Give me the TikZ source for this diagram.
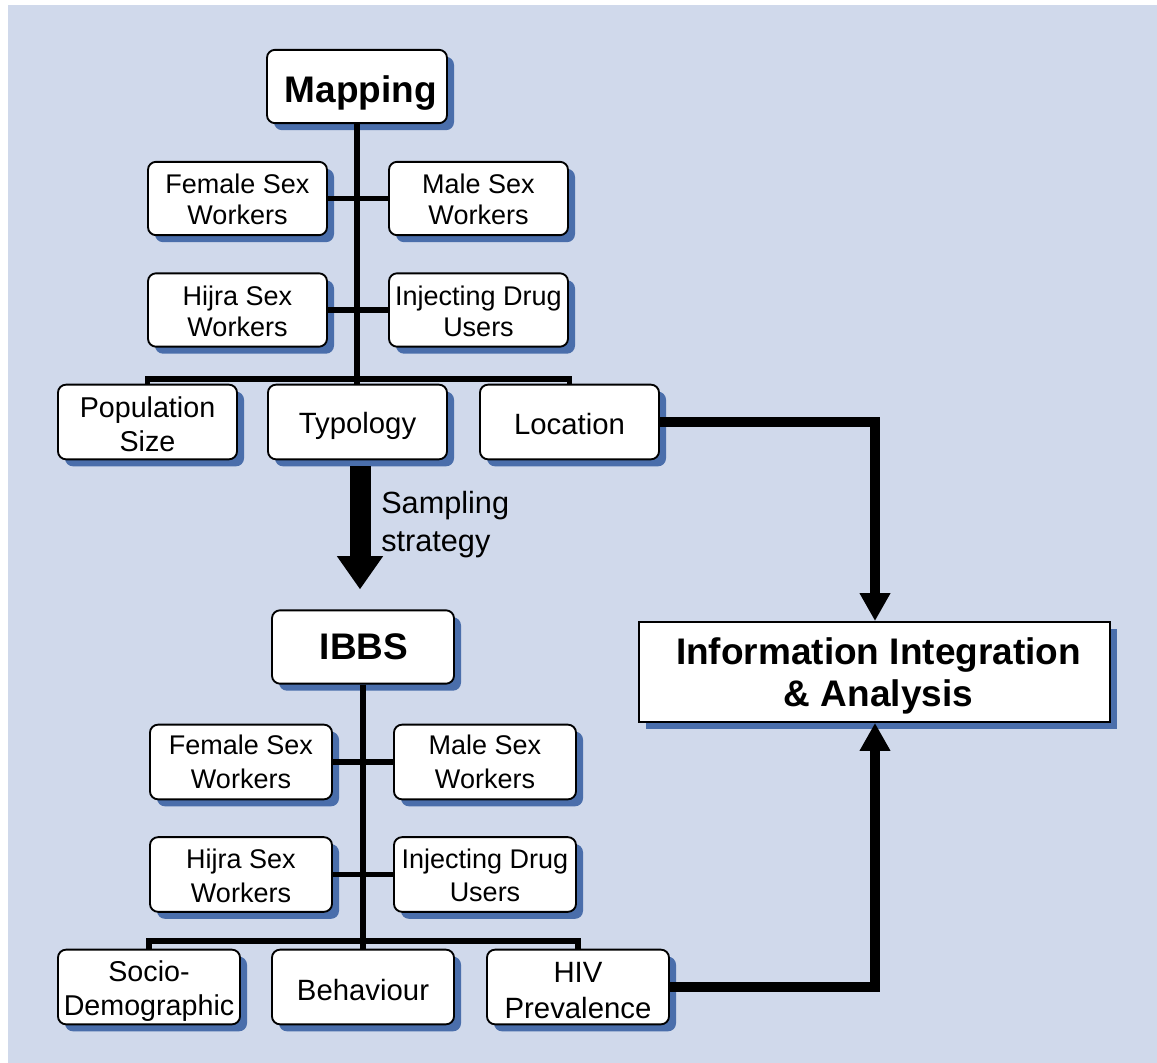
\documentclass[tikz,border=0pt]{standalone}
\usepackage{fontspec}
\setmainfont{Liberation Sans}
\usetikzlibrary{arrows.meta,shadows,calc}
\definecolor{bgblue}{HTML}{D0D9EB}
\definecolor{shblue}{HTML}{4A6EAB}
\begin{document}
\begin{tikzpicture}[x=0.75pt,y=-0.75pt,
  box/.style={draw=black, line width=1.4pt, fill=white, rounded corners=6pt,
    inner sep=0pt, drop shadow={shadow xshift=5.25pt, shadow yshift=-5.25pt, fill=shblue, opacity=1}},
  sbox/.style={box, minimum width=134.25pt, minimum height=55pt},
  ibox/.style={box, minimum width=136.5pt, minimum height=56pt},
  rowbox/.style={box, minimum width=#1, minimum height=56pt},
  titlebox/.style={box, minimum width=#1, minimum height=55pt},
  txt/.style={align=center, inner sep=0pt},
  stxt/.style={txt, font=\fontsize{20.25pt}{23.25pt}\selectfont},
  itxt/.style={txt, font=\fontsize{20.25pt}{25pt}\selectfont},
  rtxt/.style={txt, font=\fontsize{22pt}{26.5pt}\selectfont},
  r2txt/.style={txt, font=\fontsize{21.5pt}{25.5pt}\selectfont},
  btxt/.style={txt, font=\bfseries\fontsize{27.75pt}{31.5pt}\selectfont},
  tree/.style={draw=black, line width=4pt, line join=miter},
  flow/.style={draw=black, line width=7.5pt, line join=miter, -{Triangle[width=21.75pt,length=21pt]}},
]
\useasboundingbox (0,0) rectangle (1157,1063);
\fill[bgblue] (8,5) rectangle (1157,1063);

% Mapping part
\node[titlebox=135pt] (map) at (357,86.5) {};
\node[sbox] (fsw1) at (237.5,198.5) {};
\node[sbox] (msw1) at (478.5,198.5) {};
\node[sbox] (hsw1) at (237.5,310) {};
\node[sbox] (idu1) at (478.5,310) {};
\node[rowbox=134.25pt] (pop) at (147.5,422) {};
\node[rowbox=134.25pt] (typ) at (357.5,422) {};
\node[rowbox=134.25pt] (loc) at (569.5,422) {};
\coordinate (j1) at (358,379);

\node[btxt] (map-t) at ([xshift=3pt,yshift=-5.25pt]map.center) {Mapping};
\node[stxt] (fsw1-t) at ([yshift=-0.5pt]fsw1.center) {Female Sex\\Workers};
\node[stxt] (msw1-t) at ([yshift=-0.5pt]msw1.center) {Male Sex\\Workers};
\node[stxt] (hsw1-t) at ([yshift=-1.2pt]hsw1.center) {Hijra Sex\\Workers};
\node[stxt] (idu1-t) at ([yshift=-1pt]idu1.center) {Injecting Drug\\Users};
\node[r2txt] (pop-t) at ([yshift=-1.5pt]pop.center) {Population\\Size};
\node[rtxt] (typ-t) at ([yshift=-3pt]typ.center) {Typology};
\node[rtxt] (loc-t) at ([yshift=-1.5pt]loc.center) {Location};

% IBBS part
\node[titlebox=136.5pt] (ibbs) at (363,647) {};
\node[ibox] (fsw2) at (241,762) {};
\node[ibox] (msw2) at (485,762) {};
\node[ibox] (hsw2) at (241,874.5) {};
\node[ibox] (idu2) at (485,874.5) {};
\node[rowbox=136.5pt] (soc) at (149,987) {};
\node[rowbox=136.5pt] (beh) at (363,987) {};
\node[rowbox=136.5pt] (hiv) at (578,987) {};
\coordinate (j2) at (363,941);

\node[btxt] (ibbs-t) at ([xshift=0.75pt]ibbs.center) {IBBS};
\node[itxt] (fsw2-t) at (fsw2.center) {Female Sex\\Workers};
\node[itxt] (msw2-t) at (msw2.center) {Male Sex\\Workers};
\node[itxt] (hsw2-t) at ([yshift=-1pt]hsw2.center) {Hijra Sex\\Workers};
\node[itxt] (idu2-t) at ([yshift=-0.5pt]idu2.center) {Injecting Drug\\Users};
\node[r2txt] (soc-t) at ([yshift=-3pt]soc.center) {Socio-\\Demographic};
\node[rtxt] (beh-t) at ([yshift=-2.25pt]beh.center) {Behaviour};
\node[rtxt] (hiv-t) at ([yshift=-2.6pt]hiv.center) {HIV\\Prevalence};

% Integration box
\node[box, rounded corners=0pt, minimum width=353.25pt, minimum height=75pt] (info) at (874.5,672) {};
\node[btxt] (info-t) at ([xshift=3pt,yshift=-3pt]info.center) {Information Integration\\\& Analysis};

% tree connectors (Mapping)
\draw[tree] (map.south) -- (map.south |- typ.north);
\draw[tree] (fsw1.east) -- (msw1.west);
\draw[tree] (hsw1.east) -- (idu1.west);
\draw[tree] (pop.north) -- (pop.north |- j1) -- (loc.north |- j1) -- (loc.north);

% tree connectors (IBBS)
\draw[tree] (ibbs.south) -- (ibbs.south |- beh.north);
\draw[tree] (fsw2.east) -- (msw2.west);
\draw[tree] (hsw2.east) -- (idu2.west);
\draw[tree] (soc.north) -- (soc.north |- j2) -- (hiv.north |- j2) -- (hiv.north);

% sampling arrow
\draw[draw=black, line width=15.75pt, -{Triangle[width=33pt,length=25pt]}]
  ($(typ.south)+(2.5,6)$) -- ($(ibbs.north)+(-3,-20)$);
\node[anchor=west, align=left, inner sep=0pt, font=\fontsize{23pt}{28.5pt}\selectfont] (samp) at (381,525) {Sampling\\strategy};

% flows into integration box
\coordinate (c1) at (875,0);
\draw[flow] (loc.east) -- (loc.east -| c1) -- (info.north -| c1);
\draw[flow] (hiv.east) -- (hiv.east -| c1) -- (info.south -| c1);
\end{tikzpicture}
\end{document}
